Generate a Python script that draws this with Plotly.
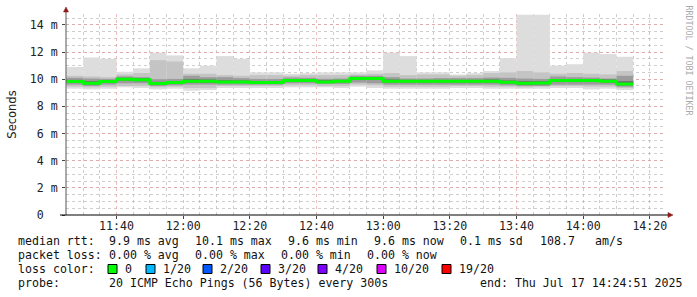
import plotly.graph_objects as go
import pandas as pd

# ---------------- data ----------------
col_start = pd.date_range("2025-07-17 11:25:00", periods=34, freq="5min")
max_ms = [10.9, 11.6, 11.5, 10.55, 10.8, 11.95, 11.75, 10.8, 11.0, 11.7, 11.5, 10.5, 10.5, 10.4, 10.45, 10.5, 10.5,
          10.5, 10.65, 11.95, 11.7, 10.5, 10.5, 10.35, 10.45, 10.6, 11.55, 14.75, 14.75, 11.0, 11.1, 11.95, 11.85, 11.65]
p90_ms = [10.25, 10.2, 10.15, 10.35, 10.45, 11.4, 11.3, 10.4, 10.4, 10.3, 10.25, 10.3, 10.3, 10.25, 10.3, 10.3, 10.3,
          10.35, 10.4, 10.45, 10.3, 10.35, 10.35, 10.25, 10.3, 10.45, 10.5, 10.6, 10.5, 10.4, 10.45, 10.4, 10.35, 10.6]
p75_ms = [10.1, 10.05, 10.02, 10.2, 10.15, 10.0, 10.02, 10.25, 10.15, 10.15, 10.08, 10.02, 10.02, 10.12, 10.1, 10.03, 10.05,
          10.25, 10.25, 10.15, 10.05, 10.05, 10.08, 10.08, 10.08, 10.12, 10.1, 10.05, 10.02, 10.2, 10.15, 10.12, 10.05, 10.25]
p60_ms = [9.95, 9.85, 9.92, 10.1, 10.05, 9.8, 9.85, 10.0, 9.98, 9.92, 9.9, 9.85, 9.85, 10.0, 10.0, 9.92, 9.95,
          10.15, 10.15, 9.98, 9.95, 9.95, 9.95, 9.95, 9.95, 9.98, 9.9, 9.85, 9.85, 10.0, 10.0, 10.0, 9.98, 9.85]
median_ms = [9.83, 9.70, 9.83, 10.0, 9.95, 9.68, 9.75, 9.85, 9.85, 9.8, 9.8, 9.75, 9.75, 9.9, 9.9, 9.8, 9.85,
             10.05, 10.05, 9.85, 9.85, 9.85, 9.85, 9.85, 9.85, 9.85, 9.78, 9.7, 9.72, 9.9, 9.9, 9.9, 9.85, 9.65]
p40_ms = [9.75, 9.62, 9.75, 9.9, 9.85, 9.6, 9.68, 9.75, 9.75, 9.72, 9.72, 9.68, 9.68, 9.82, 9.82, 9.72, 9.78,
          9.95, 9.95, 9.77, 9.77, 9.77, 9.77, 9.77, 9.77, 9.77, 9.7, 9.6, 9.62, 9.8, 9.8, 9.8, 9.77, 9.55]
p25_ms = [9.6, 9.5, 9.6, 9.7, 9.7, 9.5, 9.55, 9.6, 9.6, 9.6, 9.6, 9.6, 9.6, 9.7, 9.7, 9.65, 9.65,
          9.75, 9.7, 9.6, 9.6, 9.6, 9.6, 9.6, 9.6, 9.6, 9.55, 9.5, 9.5, 9.6, 9.6, 9.6, 9.6, 9.45]
p10_ms = [9.45, 9.4, 9.45, 9.5, 9.5, 9.4, 9.45, 9.35, 9.35, 9.5, 9.5, 9.5, 9.5, 9.55, 9.55, 9.5, 9.5,
          9.6, 9.55, 9.45, 9.45, 9.45, 9.45, 9.5, 9.5, 9.45, 9.45, 9.4, 9.45, 9.5, 9.5, 9.45, 9.45, 9.35]
min_ms = [9.3, 9.25, 9.3, 9.4, 9.35, 9.25, 9.3, 9.15, 9.2, 9.35, 9.35, 9.35, 9.35, 9.4, 9.4, 9.4, 9.35,
          9.45, 9.35, 9.3, 9.3, 9.3, 9.3, 9.35, 9.35, 9.3, 9.3, 9.3, 9.3, 9.35, 9.35, 9.25, 9.3, 9.2]

y_tickvals = [0, 2, 4, 6, 8, 10, 12, 14]
y_ticktext = ["0\u00a0\u00a0", "2 m", "4 m", "6 m", "8 m", "10 m", "12 m", "14 m"]

legend_line1 = [("median rtt:", 16), ("9.9 ms avg", 107), ("10.1 ms max", 193), ("9.6 ms min", 286),
                ("9.6 ms now", 372), ("0.1 ms sd", 458), ("108.7", 538), ("am/s", 593)]
legend_line2 = [("packet loss:", 16), ("0.00 % avg", 107), ("0.00 % max", 193), ("0.00 % min", 279),
                ("0.00 % now", 365)]
loss_labels = ["0", "1/20", "2/20", "3/20", "4/20", "10/20", "19/20"]
loss_colors = ["#00ff00", "#00b8ff", "#0059ff", "#5e00ff", "#7e00ff", "#dd00ff", "#ff0000"]
loss_box_x = [108, 146, 203, 261, 318, 377, 442]
probe_text = "20 ICMP Echo Pings (56 Bytes) every 300s"
end_text = "end: Thu Jul 17 14:24:51 2025"

# ---------------- geometry ----------------
W, H = 697, 297
L, R, T, B = 66, 31, 14, 82
PW, PH = W - L - R, H - T - B
def px(x):
    return (x - L) / PW
def py(y):
    return (H - B - y) / PH

step_ms = 300000
centers = col_start + pd.Timedelta(minutes=2.5)
MONO = "DejaVu Sans Mono"
MAJOR = "rgba(232,150,150,0.65)"
MINOR = "rgba(185,185,185,0.7)"

fig = go.Figure()
bands = [(min_ms, max_ms, "#dddddd"), (p10_ms, p90_ms, "#c4c4c4"),
         (p25_ms, p75_ms, "#9c9c9c"), (p40_ms, p60_ms, "#686868")]
for lo, hi, c in bands:
    fig.add_trace(go.Bar(x=centers, y=[h - l for h, l in zip(hi, lo)], base=lo,
                         width=step_ms, marker=dict(color=c, line=dict(width=0)),
                         hoverinfo="skip", showlegend=False))

x_step = list(col_start) + [col_start[-1] + pd.Timedelta(minutes=5)]
fig.add_trace(go.Scatter(x=x_step, y=median_ms + [median_ms[-1]], mode="lines",
                         line=dict(color="#00ff00", width=3, shape="hv"),
                         hoverinfo="skip", showlegend=False))

fig.update_layout(
    width=W, height=H, margin=dict(l=L, r=R, t=T, b=B),
    paper_bgcolor="white", plot_bgcolor="white", barmode="overlay",
    showlegend=False, font=dict(family=MONO, size=11.6, color="#222"),
)
fig.update_xaxes(
    type="date", range=["2025-07-17 11:24:51", "2025-07-17 14:24:51"],
    tick0="2025-07-17 11:40:00", dtick=1200000, tickformat="%H:%M",
    showgrid=True, gridcolor=MAJOR, griddash="dot", gridwidth=1,
    minor=dict(dtick=300000, tick0="2025-07-17 11:25:00", showgrid=True,
               gridcolor=MINOR, griddash="dot", gridwidth=1),
    ticks="outside", ticklen=3, tickcolor="#444", ticklabelstandoff=-3,
    showline=False, zeroline=False,
    tickfont=dict(family=MONO, size=11.6, color="#222"), fixedrange=True,
)
fig.update_yaxes(
    range=[0, 14.8], tickvals=y_tickvals, ticktext=y_ticktext,
    showgrid=True, gridcolor=MAJOR, griddash="dot", gridwidth=1,
    minor=dict(dtick=0.5, tick0=0, showgrid=True,
               gridcolor=MINOR, griddash="dot", gridwidth=1),
    ticks="outside", ticklen=3, tickcolor="#444", showline=False, zeroline=False,
    tickfont=dict(family=MONO, size=11.6, color="#222"), ticklabelstandoff=2,
    title=dict(text="Seconds", font=dict(family="DejaVu Sans", size=11.5, color="#222"), standoff=10),
    fixedrange=True,
)

shapes = []
# axis lines
shapes.append(dict(type="line", xref="paper", yref="paper", x0=0, x1=0, y0=py(215), y1=py(11),
                   line=dict(color="#555", width=1)))
shapes.append(dict(type="line", xref="paper", yref="paper", x0=px(60), x1=px(668), y0=0, y1=0,
                   line=dict(color="#000", width=1)))
# arrow heads
shapes.append(dict(type="path", xref="paper", yref="paper",
                   path=f"M {px(63.5)} {py(12)} L {px(68.5)} {py(12)} L {px(66)} {py(7)} Z",
                   fillcolor="#8b1a1a", line=dict(color="#8b1a1a", width=0.5)))
shapes.append(dict(type="path", xref="paper", yref="paper",
                   path=f"M {px(668)} {py(212.5)} L {px(668)} {py(217.5)} L {px(673)} {py(215)} Z",
                   fillcolor="#8b1a1a", line=dict(color="#8b1a1a", width=0.5)))
# loss colour boxes
for bx, c in zip(loss_box_x, loss_colors):
    shapes.append(dict(type="rect", xref="paper", yref="paper",
                       x0=px(bx), x1=px(bx + 9), y0=py(273.5), y1=py(264.5),
                       fillcolor=c, line=dict(color="#000", width=1)))
fig.update_layout(shapes=shapes)

ann = []
def text_at(t, x, y, **kw):
    ann.append(dict(text=t, x=px(x), y=py(y), xref="paper", yref="paper", showarrow=False,
                    xanchor="left", yanchor="middle", font=dict(family=MONO, size=11.6, color="#111"), **kw))

for t, x in legend_line1:
    text_at(t, x, 241)
for t, x in legend_line2:
    text_at(t, x, 255)
text_at("loss color:", 16, 269)
for bx, lab in zip(loss_box_x, loss_labels):
    text_at(lab, bx + 15, 269)
text_at("probe:", 16, 283)
text_at(probe_text, 107, 283)
text_at(end_text, 478, 283)

ann.append(dict(text="RRDTOOL / TOBI OETIKER", x=px(688.5), y=py(60), xref="paper", yref="paper",
                showarrow=False, textangle=90, xanchor="center", yanchor="middle",
                font=dict(family=MONO, size=8.3, color="#aaaaaa")))
fig.update_layout(annotations=ann)

fig.write_html("out.html")
